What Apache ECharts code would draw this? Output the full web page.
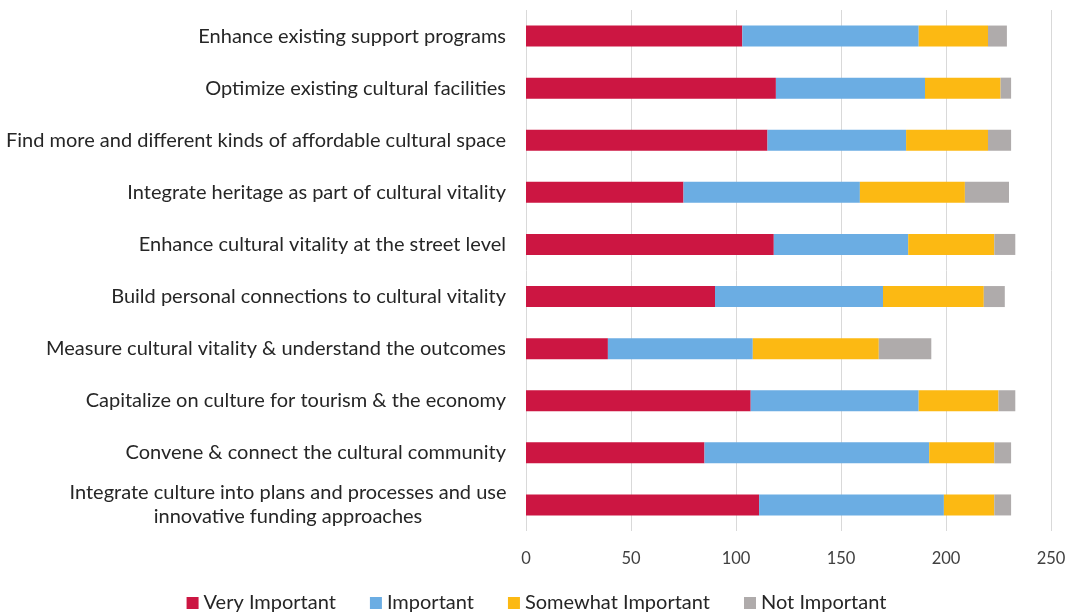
<!DOCTYPE html>
<html><head><meta charset="utf-8">
<script src="https://cdn.jsdelivr.net/npm/echarts@6/dist/echarts.min.js"></script>
<style>html,body{margin:0;padding:0;background:#fff}#c{width:1073px;height:615px}</style>
</head><body><div id="c"></div>
<script>
const categories = [
  "Enhance existing support programs",
  "Optimize existing cultural facilities",
  "Find more and different kinds of affordable cultural space",
  "Integrate heritage as part of cultural vitality",
  "Enhance cultural vitality at the street level",
  "Build personal connections to cultural vitality",
  "Measure cultural vitality & understand the outcomes",
  "Capitalize on culture for tourism & the economy",
  "Convene & connect the cultural community",
  "Integrate culture into plans and processes and use\ninnovative funding approaches"
];
const veryImportant = [103, 119, 115, 75, 118, 90, 39, 107, 85, 111];
const important = [84, 71, 66, 84, 64, 80, 69, 80, 107, 88];
const somewhatImportant = [33, 36, 39, 50, 41, 48, 60, 38, 31, 24];
const notImportant = [9, 5, 11, 21, 10, 10, 25, 8, 8, 8];
const seriesNames = ["Very Important", "Important", "Somewhat Important", "Not Important"];
const xTicks = [0, 50, 100, 150, 200, 250];

const FONT = "Lato";
const colors = ["#CC1642", "#6BADE3", "#FCB913", "#AFABAB"];
const chart = echarts.init(document.getElementById('c'), null, {renderer: 'canvas'});
const mk = (name, data, i) => ({
  name, type: 'bar', stack: 'total', data, barWidth: 21,
  itemStyle: {color: colors[i]}
});
chart.setOption({
  animation: false,
  textStyle: {fontFamily: FONT},
  grid: {left: 526, right: 22, top: 10, bottom: 84},
  legend: {
    top: 593, left: 'center', itemWidth: 12, itemHeight: 12, itemGap: 34,
    icon: 'rect', padding: 0,
    textStyle: {fontFamily: FONT, fontSize: 20, color: '#262626'},
    data: seriesNames
  },
  xAxis: {
    type: 'value', min: xTicks[0], max: xTicks[xTicks.length - 1], interval: 50,
    axisLine: {show: false}, axisTick: {show: false},
    splitLine: {lineStyle: {color: '#D9D9D9', width: 1}},
    axisLabel: {fontFamily: FONT, fontSize: 16.5, color: '#404040', margin: 19}
  },
  yAxis: {
    type: 'category', data: categories, inverse: true,
    axisLine: {show: false}, axisTick: {show: false},
    axisLabel: {
      fontFamily: FONT, fontSize: 20, color: '#262626', margin: 20,
      formatter: function (v) {
        if (v.indexOf('\n') >= 0) {
          return v.split('\n').map(s => '{c|' + s + '}').join('\n');
        }
        return v;
      },
      rich: {c: {fontFamily: FONT, fontSize: 20, color: '#262626', width: 436, align: 'center', lineHeight: 24}}
    }
  },
  series: [
    mk(seriesNames[0], veryImportant, 0),
    mk(seriesNames[1], important, 1),
    mk(seriesNames[2], somewhatImportant, 2),
    mk(seriesNames[3], notImportant, 3)
  ]
});
</script></body></html>
